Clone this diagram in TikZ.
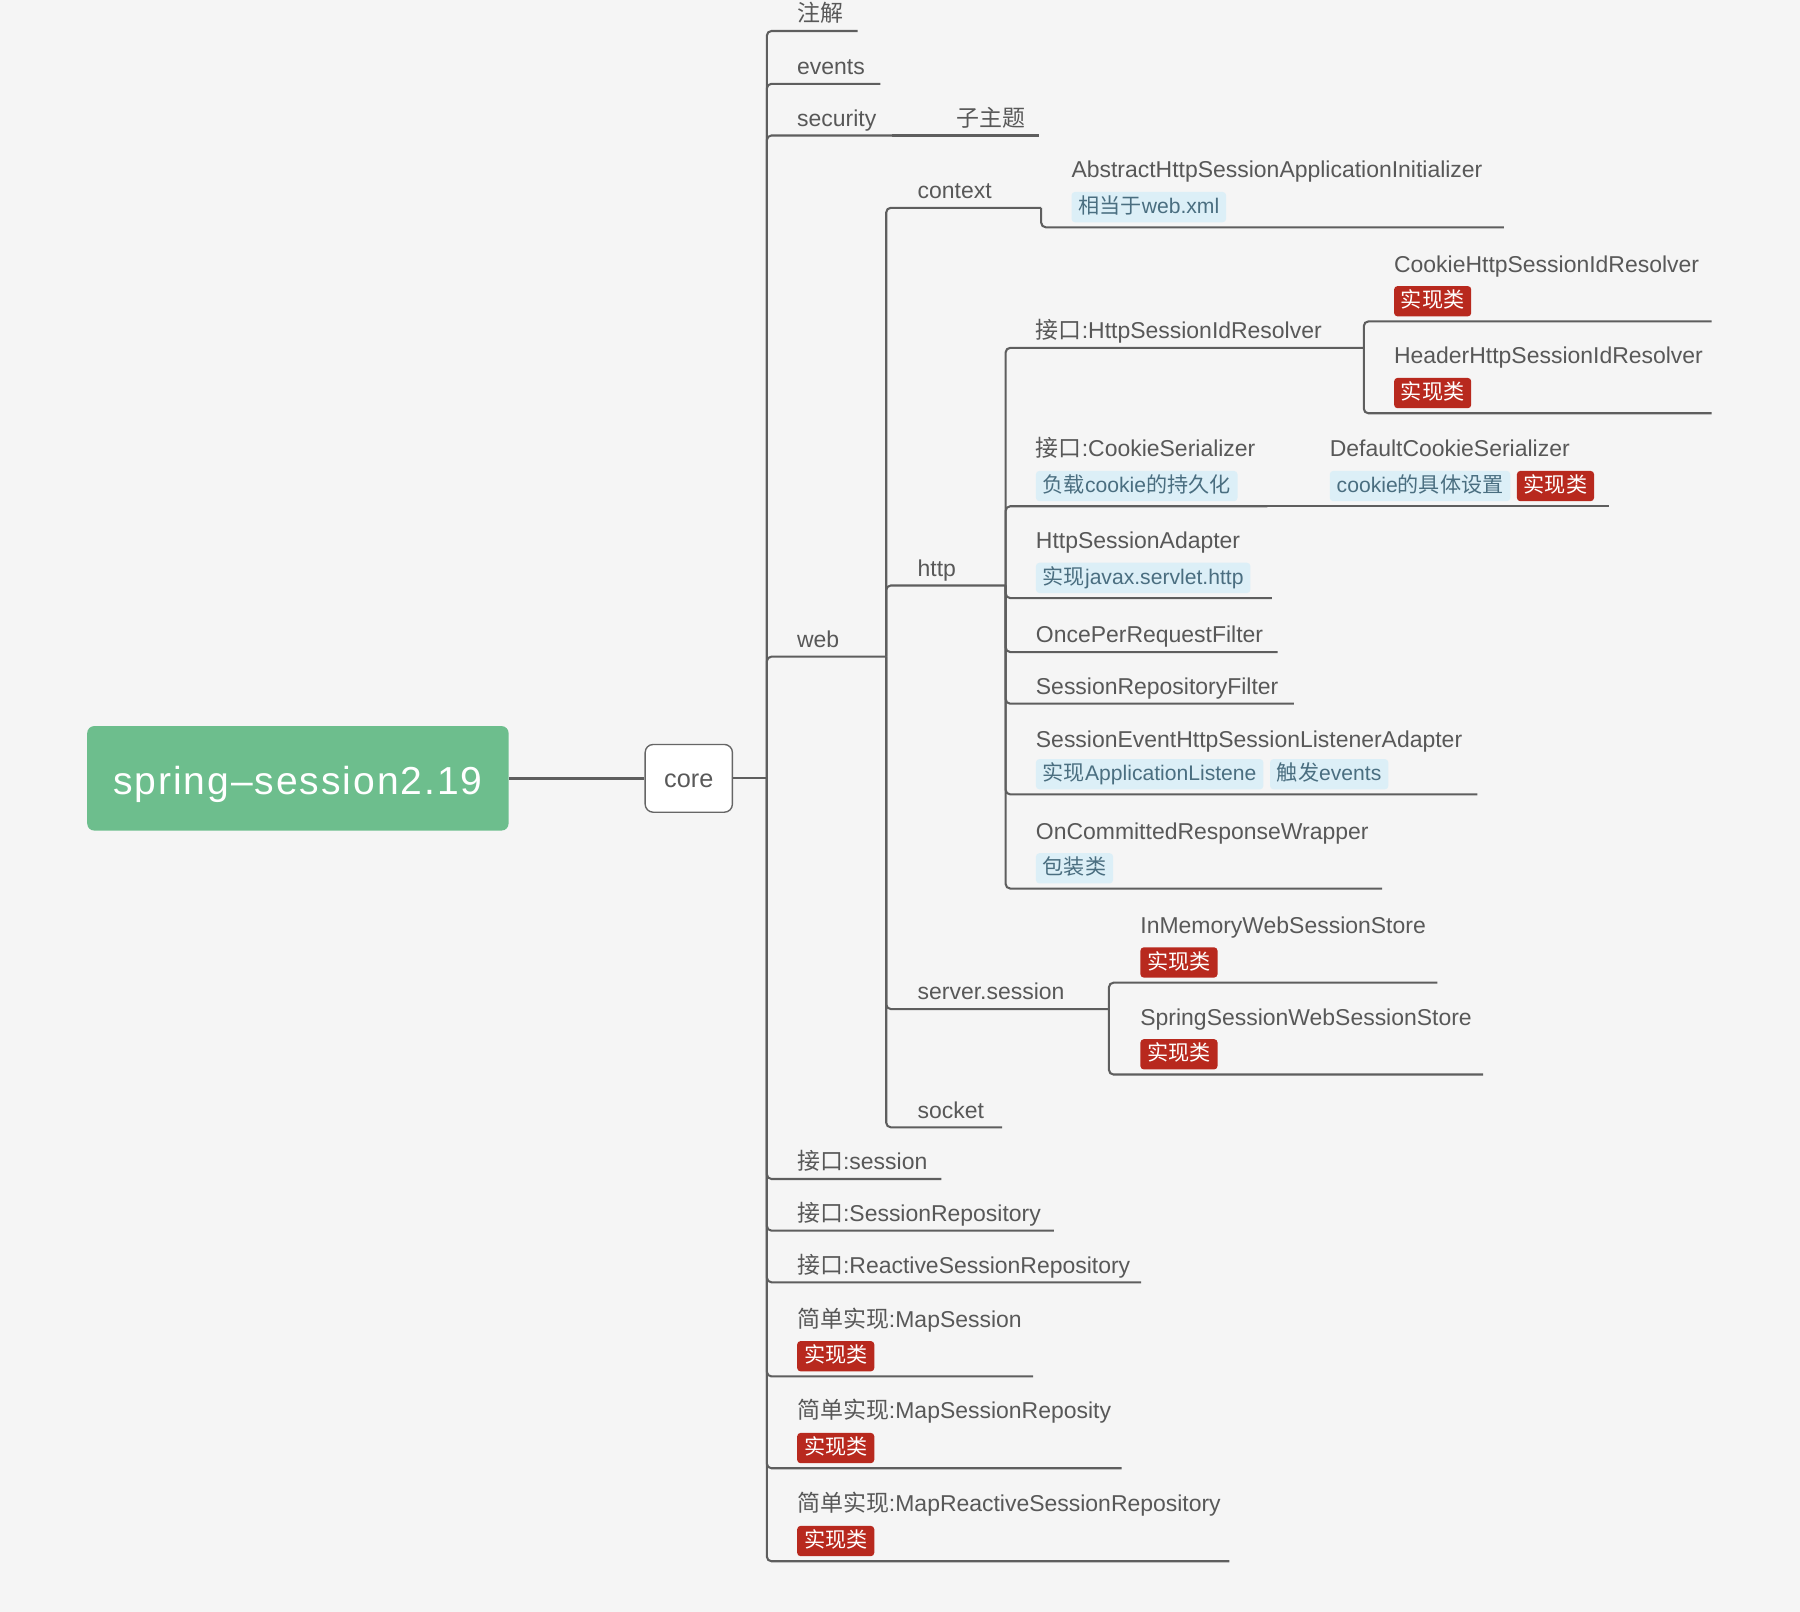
\documentclass[tikz,border=0pt]{standalone}
\usepackage{fontspec}
\setmainfont{Liberation Sans}
\newfontfamily\cjk{Noto Sans CJK SC}
\newcommand{\zh}[1]{{\cjk #1}}
\usetikzlibrary{positioning}
\definecolor{paper}{HTML}{F5F5F5}
\definecolor{linegray}{HTML}{5E5E5E}
\definecolor{textgray}{HTML}{585858}
\definecolor{rootgreen}{HTML}{6DBE8D}
\definecolor{bluebg}{HTML}{DCEFF7}
\definecolor{bluetext}{HTML}{4A6E80}
\definecolor{redbg}{HTML}{B8291E}
\tikzstyle{rootbox}=[
  fill=rootgreen,
  font={\fontsize{17pt}{20pt}\selectfont\addfontfeatures{LetterSpace=5}},
  inner sep=0pt,
  minimum height=45.5pt,
  minimum width=183.5pt,
  rounded corners=3pt,
  text depth=0pt,
  text height=14pt,
  text=white,
]
\tikzstyle{corebox}=[
  draw=black!60,
  fill=white,
  font={\fontsize{11pt}{13pt}\selectfont},
  inner sep=0pt,
  line width=0.6pt,
  minimum height=29.5pt,
  minimum width=38pt,
  rounded corners=3.5pt,
  text depth=0pt,
  text height=8.2pt,
  text=black!65,
]
\tikzstyle{topic}=[
  anchor=base west,
  font={\fontsize{10pt}{12pt}\selectfont},
  inner sep=0pt,
  text=textgray,
]
\tikzstyle{badge}=[
  anchor=south west,
  font={\fontsize{9.2pt}{11pt}\selectfont},
  inner xsep=3pt,
  inner ysep=1.5pt,
  rounded corners=1.5pt,
  text depth=2.2pt,
  text height=8pt,
]
\tikzstyle{badgeblue}=[badge, fill=bluebg, text=bluetext]
\tikzstyle{badgered}=[badge, fill=redbg, text=white]
\tikzstyle{link}=[
  draw=linegray,
  line width=0.9pt,
  rounded corners=2pt,
]
\begin{document}
\begin{tikzpicture}[x=0.5pt, y=-0.5pt]
  \fill[paper] (0,0) rectangle (1568,1404);
  % root and core
  \node (root) [rootbox] at (259.5,678) {spring–session2.19};
  \node (core) [corebox] at (600,678) {core};
  \coordinate (core-j) at (668,678);
  \draw [link, line width=1.2pt] (root) -- (core);
  \draw [link] (core) -- (core-j);
  % first level
  \node (zhujie) [topic] at (694,19) {\zh{注解}};
  \coordinate (zhujie-u) at (747,27);
  \node (events) [topic] at (694,65) {events};
  \coordinate (events-u) at (767,73);
  \node (security) [topic] at (694,110) {security};
  \coordinate (security-u) at (777,118);
  \node (zizhuti) [topic] at (833,110) {\zh{子主题}};
  \coordinate (zizhuti-u) at (905,118);
  \node (web) [topic] at (694,564) {web};
  \coordinate (web-u) at (772,572);
  \node (session) [topic] at (694,1019) {\zh{接口}:session};
  \coordinate (session-u) at (820,1027);
  \node (repo) [topic] at (694,1064) {\zh{接口}:SessionRepository};
  \coordinate (repo-u) at (918,1072);
  \node (reactive) [topic] at (694,1109) {\zh{接口}:ReactiveSessionRepository};
  \coordinate (reactive-u) at (994,1117);
  \node (mapsession) [topic] at (694,1156) {\zh{简单实现}:MapSession};
  \node (mapsession-b) [badgered] at (694,1195) {\zh{实现类}};
  \coordinate (mapsession-u) at (900,1199);
  \node (maprepo) [topic] at (694,1236) {\zh{简单实现}:MapSessionReposity};
  \node (maprepo-b) [badgered] at (694,1275) {\zh{实现类}};
  \coordinate (maprepo-u) at (977,1279);
  \node (mapreactive) [topic] at (694,1317) {\zh{简单实现}:MapReactiveSessionRepository};
  \node (mapreactive-b) [badgered] at (694,1356) {\zh{实现类}};
  \coordinate (mapreactive-u) at (1071,1360);
  % web
  \node (context) [topic] at (799,173) {context};
  \coordinate (context-u) at (907,181);
  \node (initializer) [topic] at (933,155) {AbstractHttpSessionApplicationInitializer};
  \node (initializer-b) [badgeblue] at (933,194) {\zh{相当于}web.xml};
  \coordinate (initializer-u) at (1310,198);
  \node (http) [topic] at (799,502) {http};
  \coordinate (http-u) at (876,510);
  \node (server) [topic] at (799,871) {server.session};
  \coordinate (server-u) at (966,879);
  \node (socket) [topic] at (799,974) {socket};
  \coordinate (socket-u) at (873,982);
  % http
  \node (idresolver) [topic] at (902,295) {\zh{接口}:HttpSessionIdResolver};
  \coordinate (idresolver-u) at (1188,303);
  \node (cookieres) [topic] at (1214,237) {CookieHttpSessionIdResolver};
  \node (cookieres-b) [badgered] at (1214,276) {\zh{实现类}};
  \coordinate (cookieres-u) at (1491,280);
  \node (headerres) [topic] at (1214,317) {HeaderHttpSessionIdResolver};
  \node (headerres-b) [badgered] at (1214,356) {\zh{实现类}};
  \coordinate (headerres-u) at (1491,360);
  \node (serializer) [topic] at (902,398) {\zh{接口}:CookieSerializer};
  \node (serializer-b) [badgeblue] at (902,437) {\zh{负载}cookie\zh{的持久化}};
  \coordinate (serializer-u) at (1104,441);
  \node (defaultser) [topic] at (1158,398) {DefaultCookieSerializer};
  \node (defaultser-b) [badgeblue] at (1158,437) {cookie\zh{的具体设置}};
  \node (defaultser-c) [badgered, right=2.5pt of defaultser-b] {\zh{实现类}};
  \coordinate (defaultser-u) at (1402,441);
  \node (adapter) [topic] at (902,478) {HttpSessionAdapter};
  \node (adapter-b) [badgeblue] at (902,517) {\zh{实现}javax.servlet.http};
  \coordinate (adapter-u) at (1108,521);
  \node (onceper) [topic] at (902,560) {OncePerRequestFilter};
  \coordinate (onceper-u) at (1113,568);
  \node (repofilter) [topic] at (902,605) {SessionRepositoryFilter};
  \coordinate (repofilter-u) at (1127,613);
  \node (listener) [topic] at (902,651) {SessionEventHttpSessionListenerAdapter};
  \node (listener-b) [badgeblue] at (902,688) {\zh{实现}ApplicationListene};
  \node (listener-c) [badgeblue, right=2.5pt of listener-b] {\zh{触发}events};
  \coordinate (listener-u) at (1287,692);
  \node (committed) [topic] at (902,731) {OnCommittedResponseWrapper};
  \node (committed-b) [badgeblue] at (902,770) {\zh{包装类}};
  \coordinate (committed-u) at (1204,774);
  % server.session
  \node (inmemory) [topic] at (993,813) {InMemoryWebSessionStore};
  \node (inmemory-b) [badgered] at (993,852) {\zh{实现类}};
  \coordinate (inmemory-u) at (1252,856);
  \node (springstore) [topic] at (993,893) {SpringSessionWebSessionStore};
  \node (springstore-b) [badgered] at (993,932) {\zh{实现类}};
  \coordinate (springstore-u) at (1292,936);
  % connectors
  \draw [link] (core-j) |- (zhujie-u);
  \draw [link] (core-j) |- (events-u);
  \draw [link] (core-j) |- (security-u);
  \draw [link] (core-j) |- (web-u);
  \draw [link] (core-j) |- (session-u);
  \draw [link] (core-j) |- (repo-u);
  \draw [link] (core-j) |- (reactive-u);
  \draw [link] (core-j) |- (mapsession-u);
  \draw [link] (core-j) |- (maprepo-u);
  \draw [link] (core-j) |- (mapreactive-u);
  \draw [link] (security-u) -- (zizhuti-u);
  \draw [link] (web-u) |- (context-u);
  \draw [link] (web-u) |- (http-u);
  \draw [link] (web-u) |- (server-u);
  \draw [link] (web-u) |- (socket-u);
  \draw [link] (context-u) |- (initializer-u);
  \draw [link] (http-u) |- (idresolver-u);
  \draw [link] (http-u) |- (serializer-u);
  \draw [link] (http-u) |- (adapter-u);
  \draw [link] (http-u) |- (onceper-u);
  \draw [link] (http-u) |- (repofilter-u);
  \draw [link] (http-u) |- (listener-u);
  \draw [link] (http-u) |- (committed-u);
  \draw [link] (idresolver-u) |- (cookieres-u);
  \draw [link] (idresolver-u) |- (headerres-u);
  \draw [link] (serializer-u) -- (defaultser-u);
  \draw [link] (server-u) |- (inmemory-u);
  \draw [link] (server-u) |- (springstore-u);
\end{tikzpicture}
\end{document}
